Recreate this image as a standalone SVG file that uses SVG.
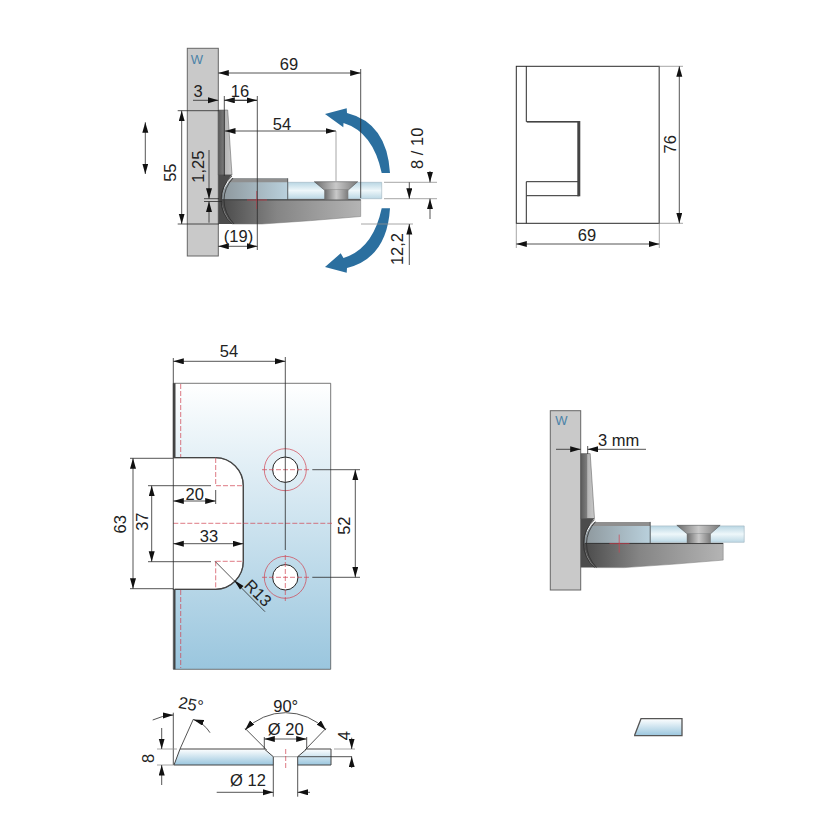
<svg xmlns="http://www.w3.org/2000/svg" xmlns:xlink="http://www.w3.org/1999/xlink" width="829" height="828" viewBox="0 0 829 828">
<style>
text{font-family:"Liberation Sans",Arial,sans-serif;font-size:16.500px;fill:#222;text-anchor:middle}
.d{fill:none;stroke:#2a2a2a;stroke-width:.8}
.a{fill:none;stroke:#2a2a2a;stroke-width:.8;marker-end:url(#ah)}
.b{fill:none;stroke:#2a2a2a;stroke-width:.8;marker-start:url(#ah);marker-end:url(#ah)}
.g{fill:none;stroke:#8f8f8f;stroke-width:.8}
.r{fill:none;stroke:#d0404f;stroke-width:.7;stroke-dasharray:5 2}
.rs{fill:none;stroke:#d0404f;stroke-width:.7}
.w{fill:#c9c9c9;stroke:#666;stroke-width:1}
text.wt{font-size:13px;fill:#4b83a8}
.o{fill:none;stroke:#2a2a2a;stroke-width:1}
.blue{fill:#2b6f9f}
</style>
<defs>
<marker id="ah" markerUnits="userSpaceOnUse" markerWidth="11" markerHeight="7" refX="10.500" refY="3" orient="auto-start-reverse"><path d="M0,0L10.500,3L0,6Z" fill="#111"/></marker>
<linearGradient id="pl" x1="0" y1="0" x2="0" y2="1"><stop offset="0" stop-color="#fff"/><stop offset=".12" stop-color="#f2f8fb"/><stop offset="1" stop-color="#9ac6de"/></linearGradient>
<linearGradient id="gl" x1="0" y1="0" x2="0" y2="1"><stop offset="0" stop-color="#b9d6e3"/><stop offset=".5" stop-color="#eef7fa"/><stop offset="1" stop-color="#bcd8e5"/></linearGradient>
<linearGradient id="cl" x1="0" y1="0" x2="1" y2="0"><stop offset="0" stop-color="#8d979c"/><stop offset="1" stop-color="#b9d0dc"/></linearGradient>
<linearGradient id="ar" x1="0" y1="0" x2="1" y2="0"><stop offset="0" stop-color="#4a4a4a"/><stop offset=".4" stop-color="#858585"/><stop offset="1" stop-color="#b4b4b4"/></linearGradient>
<linearGradient id="po" x1="0" y1="0" x2="1" y2="0"><stop offset="0" stop-color="#5c5c5c"/><stop offset=".45" stop-color="#7d7d7d"/><stop offset=".5" stop-color="#b5b5b5"/><stop offset="1" stop-color="#c9c9c9"/></linearGradient>
<linearGradient id="bo" x1="0" y1="0" x2="1" y2="0"><stop offset="0" stop-color="#6a6a6a"/><stop offset=".5" stop-color="#c9c9c9"/><stop offset="1" stop-color="#7a7a7a"/></linearGradient>
<g id="hinge">
<path d="M287.700,182.300H381.700V198.700H287.700Z" fill="url(#gl)" stroke="#9db3bf" stroke-width=".6"/>
<path d="M218.300,110H227.700L232,175H218.300Z" fill="url(#po)" stroke="#555" stroke-width=".5"/>
<path d="M221,200H360.700V216.500Q310,221 262,224H232Q223,214 221,200Z" fill="url(#ar)" stroke="#777" stroke-width=".5"/>
<path d="M232,178.300H287.700V200H221Q223,186 232,178.300Z" fill="url(#cl)"/>
<path d="M232,178.300H287.700V182.300H228Z" fill="#8f8f8f"/>
<path d="M218.300,174.700H232Q222,186 222,200Q222,214 232,224H218.300Z" fill="#4c4c4c"/>
<path d="M232,176Q221,186 221,200Q221,214 232,224M233,178Q224,188 224,200Q224,213 234,224" fill="none" stroke="#2e2e2e" stroke-width=".8"/>
<path d="M222,199.800H360.700" stroke="#2e2e2e" stroke-width="1" fill="none"/>
<path d="M287.700,178.300V199.500" stroke="#333" stroke-width=".7" fill="none"/>
<path d="M314.300,181.700H357.700L348.300,190H324.300Z" fill="url(#bo)" stroke="#444" stroke-width=".5"/>
<rect x="324.300" y="190" width="24" height="9.500" fill="url(#bo)"/>
<path d="M247,200H267M256.700,191V209" class="rs"/>
</g>
</defs>
<rect width="829" height="828" fill="#fff"/>

<g id="view-side">
<rect class="w" x="187.300" y="48.300" width="31" height="207.700"/>
<text class="wt" x="197" y="64">W</text>
<use xlink:href="#hinge" href="#hinge"/>
<path class="blue" d="M390,173Q387,123 347,113L346.700,108.300L325,114L343.300,127.300L343.500,123Q373,132 381.700,173Z"/>
<path class="blue" d="M390,208.300Q387,258 347,268L346.700,272.700L325,267L340.700,253.300L343.500,258Q373,249 381.700,208.300Z"/>
<path class="g" d="M336,131V181"/>
<path class="d" d="M360.700,69V198M224.300,96V176M257.300,96V250M177.700,110.700H219M177.700,224H219M204,198.700H219M204,201.500H222"/>
<path class="g" d="M384,182.300H437M384,198.700H437M361,224H413"/>
<path class="b" d="M218.300,73H360.700"/>
<path class="a" d="M193,100.300H218.300"/><path class="a" d="M257,100.300H224.300"/><path class="a" d="M224.300,100.300H257"/>
<path class="b" d="M225,131H336"/>
<path class="b" d="M181.700,110.700V224"/>
<path class="a" d="M209,150V198.700"/><path class="a" d="M209,222.700V201.500"/>
<path class="b" d="M218.300,246.300H257.300"/>
<path class="a" d="M409.300,182.300V198.700"/><path class="a" d="M409.300,265V224"/>
<path class="a" d="M430,171V182.300"/><path class="a" d="M430,219V198.700"/>
<path class="b" d="M145.300,122.300V174"/>
<text x="289" y="70">69</text>
<text x="198" y="96.500">3</text>
<text x="240" y="96.500">16</text>
<text x="282" y="129.500">54</text>
<text transform="translate(176,172.700) rotate(-90)">55</text>
<text transform="translate(204,166.700) rotate(-90)">1,25</text>
<text x="238.500" y="242">(19)</text>
<text transform="translate(422.700,148.300) rotate(-90)">8 / 10</text>
<text transform="translate(403,249) rotate(-90)">12,2</text>
</g>

<g id="view-top">
<rect x="516.300" y="66.300" width="143" height="157" fill="#fff" stroke="#2a2a2a" stroke-width="1"/>
<path d="M659.300,66V224" stroke="#777" stroke-width="1.200" fill="none"/>
<path class="o" d="M526.300,66V121.700H579M526.300,223.300V195.700H579M526.300,181.700H578"/>
<path class="o" d="M526.300,181.700V195.700"/>
<path d="M578.800,121V196.300" stroke="#444" stroke-width="3" fill="none"/>
<path d="M527,121.700H578" stroke="#444" stroke-width="1.500" fill="none"/>
<path class="g" d="M660,66.300H683M660,223.300H683M516.300,224V248M659.300,224V248"/>
<path class="b" d="M679.300,66.300V223.300"/>
<path class="b" d="M516.300,244H659.300"/>
<text transform="translate(675.700,144.300) rotate(-90)">76</text>
<text x="587" y="240.700">69</text>
</g>

<g id="view-plate">
<path d="M173.300,383.300H330.700V669.300H173.300V589.300H215.700A28,28 0 0 0 243.300,561.300V485.700A28,28 0 0 0 215.700,457.700H173.300Z" fill="url(#pl)" stroke="#555" stroke-width=".8"/>
<path d="M215.700,457.700A28,28 0 0 1 243.300,485.700V561.300A28,28 0 0 1 215.700,589.300H175" fill="none" stroke="#444" stroke-width="1.300"/>
<path d="M174,457.700H215.700" stroke="#444" stroke-width="1.300" fill="none"/>
<path d="M174.500,383.300V457.700M174.500,589.300V669.300" stroke="#444" stroke-width="2" fill="none"/>
<circle cx="285.300" cy="469.700" r="12.700" fill="#fff" stroke="#222" stroke-width="1"/>
<circle cx="285.300" cy="577.300" r="12.700" fill="#fff" stroke="#222" stroke-width="1"/>
<circle cx="285.300" cy="469.700" r="21" class="rs"/>
<circle cx="285.300" cy="577.300" r="21" class="rs"/>
<path class="r" d="M180.700,384V457M180.700,590V668M173.300,523.300H332M215.700,458V485.700H244M215.700,561.300H244M215.700,561.300V589M262,469.700H309M262,577.300H309M285.300,555V601"/>
<path class="d" d="M285.300,357V550M173.300,358V590M130,458.300H173.300M130,588.700H173.300M148,485.700H211M148,561.700H211M215.700,490V504M312.300,469.700H360M312.300,577.300H360"/>
<path class="b" d="M173.300,361.300H285.300"/>
<path class="b" d="M133,458.300V588.700"/>
<path class="b" d="M151.700,485.700V561.700"/>
<path class="b" d="M173.300,501H215.700"/>
<path class="b" d="M173.300,543.700H243.300"/>
<path class="b" d="M355.300,469.700V577.300"/>
<path class="d" d="M215,561.300L265,611.700"/>
<path d="M234,580L243.500,586L240,589.500Z" fill="#111"/>
<text x="229" y="357.300">54</text>
<text transform="translate(125.700,524.300) rotate(-90)">63</text>
<text transform="translate(148.300,521.700) rotate(-90)">37</text>
<text x="194.700" y="500">20</text>
<text x="209" y="541.700">33</text>
<text transform="translate(350,525.700) rotate(-90)">52</text>
<text transform="translate(254,597) rotate(45)">R13</text>
</g>

<g id="view-section">
<path d="M174,765L180,749H264.300L273.300,756.700V765Z" fill="url(#pl)" stroke="#444" stroke-width="1"/>
<path d="M306.700,749H331V765H297.700V756.700Z" fill="url(#pl)" stroke="#444" stroke-width="1"/>
<path d="M273.300,756.700H297.700" stroke="#666" stroke-width=".6"/>
<path class="r" d="M285.700,749V768"/>
<path class="d" d="M297.700,756.700H352M173.300,712.700V765M180,749L193.300,719.300M245,728.300L266.700,750M326,728.300L305,750M264.300,737V749M306.700,737V749M273.300,765V796.700M297.700,765V796.700"/>
<path class="g" d="M334,749H355M157,749H177M157,765H174"/>
<path class="a" d="M351.700,737.700V749"/><path class="a" d="M351.700,768V756.700"/>
<path class="a" d="M161.700,728V749"/><path class="a" d="M161.700,785V765"/>
<path class="a" d="M152.700,720Q162,715.500 173.300,715"/>
<path class="a" d="M210,732.700Q204,723 193.300,719.500"/>
<path class="b" d="M245,730A56,56 0 0 1 326,730"/>
<path class="b" d="M264.300,739H306.700"/>
<path class="a" d="M216.700,792.300H273.300"/><path class="a" d="M310,792.300H297.700"/>
<text transform="translate(190,710) rotate(10)">25°</text>
<text x="285.700" y="712.300">90°</text>
<text x="285.700" y="735">Ø 20</text>
<text x="248" y="785.700">Ø 12</text>
<text transform="translate(350,735.700) rotate(-90)">4</text>
<text transform="translate(154.300,758.300) rotate(-90)">8</text>
</g>

<g id="view-side-2">
<rect class="w" x="550.300" y="410.700" width="30.400" height="179.300"/>
<text class="wt" x="561.500" y="425">W</text>
<use xlink:href="#hinge" href="#hinge" transform="translate(362.500,343.600)"/>
<path class="d" d="M587.700,446V454"/>
<path class="a" d="M556,449.300H580.700"/>
<path class="a" d="M646,449.300H587.700"/>
<text x="618.500" y="446">3 mm</text>
</g>

<g id="glass-piece">
<path d="M634.700,735L641,718.700H682V735.700H634.700Z" fill="url(#pl)" stroke="#555" stroke-width="1.300"/>
</g>
</svg>
